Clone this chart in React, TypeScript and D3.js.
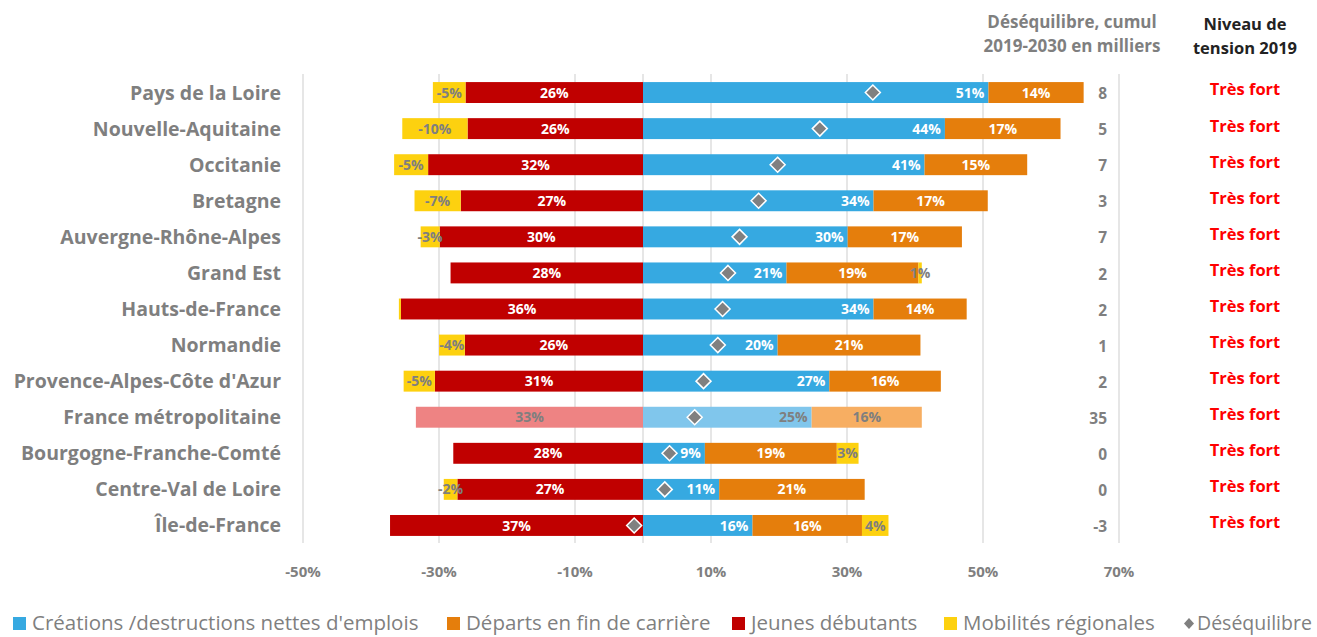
import React from "react";
import * as d3 from "d3";

const regions = [
  "Pays de la Loire",
  "Nouvelle-Aquitaine",
  "Occitanie",
  "Bretagne",
  "Auvergne-Rhône-Alpes",
  "Grand Est",
  "Hauts-de-France",
  "Normandie",
  "Provence-Alpes-Côte d'Azur",
  "France métropolitaine",
  "Bourgogne-Franche-Comté",
  "Centre-Val de Loire",
  "Île-de-France",
];
const creations = [50.8, 44.4, 41.4, 33.9, 30.1, 21.1, 33.9, 19.8, 27.4, 24.8, 9.1, 11.2, 16.1];
const departs = [14.0, 17.0, 15.1, 16.8, 16.8, 19.4, 13.7, 21.0, 16.4, 16.2, 19.4, 21.4, 16.1];
const jeunes = [-26.1, -25.8, -31.6, -26.8, -29.9, -28.3, -35.6, -26.2, -30.6, -33.4, -27.9, -27.3, -37.2];
const mobilites = [-4.8, -9.6, -5.0, -6.8, -2.8, 0.5, -0.3, -3.8, -4.6, 0, 3.2, -2.0, 3.9];
const desequilibre = [33.8, 26.0, 19.8, 17.0, 14.2, 12.5, 11.7, 11.0, 8.9, 7.6, 3.9, 3.2, -1.3];
const cumul = ["8", "5", "7", "3", "7", "2", "2", "1", "2", "35", "0", "0", "-3"];
const tension = Array(13).fill("Très fort");
const ticks = [-50, -30, -10, 10, 30, 50, 70];
const highlight = "France métropolitaine";

const FONT = "'Open Sans', 'Liberation Sans', sans-serif";
const GRAY = "#7f7f7f";

const COL = {
  blue: "#36A9E1",
  orange: "#E57E0C",
  red: "#C00000",
  yellow: "#FDD10F",
  lblue: "#80C6EC",
  lorange: "#F7AE62",
  lred: "#EE8383",
};

export default function App() {
  const W = 1317;
  const H = 637;
  const x = d3.scaleLinear().domain([-50, 70]).range([303, 1119]);
  const y = d3
    .scaleBand<string>()
    .domain(regions)
    .range([74.5, 543.5])
    .paddingInner(0.42)
    .paddingOuter(0.21);
  const bw = y.bandwidth();

  const segs: any[] = [];
  regions.forEach((r, i) => {
    const hl = r === highlight;
    let pos = 0;
    let neg = 0;
    const add = (v: number, kind: string, color: string, lcolor: string, textColor: string, anchor: string) => {
      if (v === 0) return;
      let x0: number, x1: number;
      if (v > 0) {
        x0 = pos;
        x1 = pos + v;
        pos = x1;
      } else {
        x1 = neg;
        x0 = neg + v;
        neg = x0;
      }
      segs.push({
        r,
        i,
        kind,
        x0,
        x1,
        v,
        fill: hl ? lcolor : color,
        text: hl ? GRAY : textColor,
        anchor,
      });
    };
    add(jeunes[i], "jeunes", COL.red, COL.lred, "#fff", "middle");
    add(creations[i], "creations", COL.blue, COL.lblue, "#fff", "end");
    add(departs[i], "departs", COL.orange, COL.lorange, "#fff", "middle");
    add(mobilites[i], "mobilites", COL.yellow, COL.yellow, GRAY, "middle");
  });

  const labelOf = (s: any) => {
    const v = s.kind === "jeunes" ? Math.abs(s.v) : s.v;
    const rv = Math.round(v);
    return rv === 0 ? "" : `${rv}%`;
  };

  const legend = [
    { label: "Créations /destructions nettes d'emplois", color: COL.blue, x: 13 },
    { label: "Départs en fin de carrière", color: COL.orange, x: 447 },
    { label: "Jeunes débutants", color: COL.red, x: 732 },
    { label: "Mobilités régionales", color: COL.yellow, x: 944 },
  ];

  return (
    <svg
      width={W}
      height={H}
      style={{ position: "absolute", left: 0, top: 0, background: "#fff" }}
      fontFamily={FONT}
    >
      <rect width={W} height={H} fill="#fff" />
      {/* grid */}
      {ticks.map((t) => (
        <line key={t} x1={x(t)} x2={x(t)} y1={74} y2={543} stroke="#d9d9d9" strokeWidth={1.3} />
      ))}
      <line x1={x(0)} x2={x(0)} y1={74} y2={543} stroke="#d9d9d9" strokeWidth={1.3} />
      {/* bars */}
      {segs.map((s, k) => (
        <rect
          key={k}
          x={x(s.x0)}
          y={y(s.r)!}
          width={x(s.x1) - x(s.x0)}
          height={bw}
          fill={s.fill}
        />
      ))}
      {/* bar labels */}
      {segs.map((s, k) => {
        const tx = s.anchor === "end" ? x(s.x1) - 4 : (x(s.x0) + x(s.x1)) / 2;
        return (
          <text
            key={"t" + k}
            x={tx}
            y={y(s.r)! + bw / 2}
            dy="0.36em"
            textAnchor={s.anchor}
            fontSize={14}
            fontWeight={700}
            fill={s.text}
          >
            {labelOf(s)}
          </text>
        );
      })}
      {/* diamonds */}
      {regions.map((r, i) => {
        const cx = x(desequilibre[i]);
        const cy = y(r)! + bw / 2;
        const d = 7.5;
        return (
          <path
            key={"d" + r}
            d={`M${cx},${cy - d}L${cx + d},${cy}L${cx},${cy + d}L${cx - d},${cy}Z`}
            fill="#808080"
            stroke="#fff"
            strokeWidth={1.5}
          />
        );
      })}
      {/* category labels */}
      {regions.map((r) => (
        <text
          key={"c" + r}
          x={281}
          y={y(r)! + bw / 2}
          dy="0.36em"
          textAnchor="end"
          fontSize={19.5}
          fontWeight={700}
          fill={GRAY}
        >
          {r}
        </text>
      ))}
      {/* cumul */}
      {regions.map((r, i) => (
        <text
          key={"n" + r}
          x={1107}
          y={y(r)! + bw / 2 + 1}
          dy="0.36em"
          textAnchor="end"
          fontSize={15.5}
          fontWeight={700}
          fill={GRAY}
        >
          {cumul[i]}
        </text>
      ))}
      {/* tension */}
      {regions.map((r, i) => (
        <text
          key={"s" + r}
          x={1245}
          y={y(r)! + bw / 2 - 3}
          dy="0.36em"
          textAnchor="middle"
          fontSize={16.5}
          fontWeight={700}
          fill="#ff0000"
        >
          {tension[i]}
        </text>
      ))}
      {/* headers */}
      <text x={1072} y={28} textAnchor="middle" fontSize={17} fontWeight={700} fill={GRAY}>
        Déséquilibre, cumul
      </text>
      <text x={1072} y={52} textAnchor="middle" fontSize={17} fontWeight={700} fill={GRAY}>
        2019-2030 en milliers
      </text>
      <text x={1245} y={30} textAnchor="middle" fontSize={16.5} fontWeight={700} fill="#222">
        Niveau de
      </text>
      <text x={1245} y={54} textAnchor="middle" fontSize={16.5} fontWeight={700} fill="#222">
        tension 2019
      </text>
      {/* x ticks */}
      {ticks.map((t) => (
        <text
          key={"x" + t}
          x={x(t)}
          y={572}
          dy="0.36em"
          textAnchor="middle"
          fontSize={15}
          fontWeight={700}
          fill={GRAY}
        >
          {`${t}%`}
        </text>
      ))}
      {/* legend */}
      {legend.map((l) => (
        <g key={l.label}>
          <rect x={l.x} y={617} width={13} height={13} fill={l.color} />
          <text x={l.x + 19} y={630} fontSize={20.5} fill={GRAY}>
            {l.label}
          </text>
        </g>
      ))}
      <path d="M1189,618L1194,623.5L1189,629L1184,623.5Z" fill="#808080" />
      <text x={1197} y={630} fontSize={19.5} fill={GRAY}>
        Déséquilibre
      </text>
    </svg>
  );
}
